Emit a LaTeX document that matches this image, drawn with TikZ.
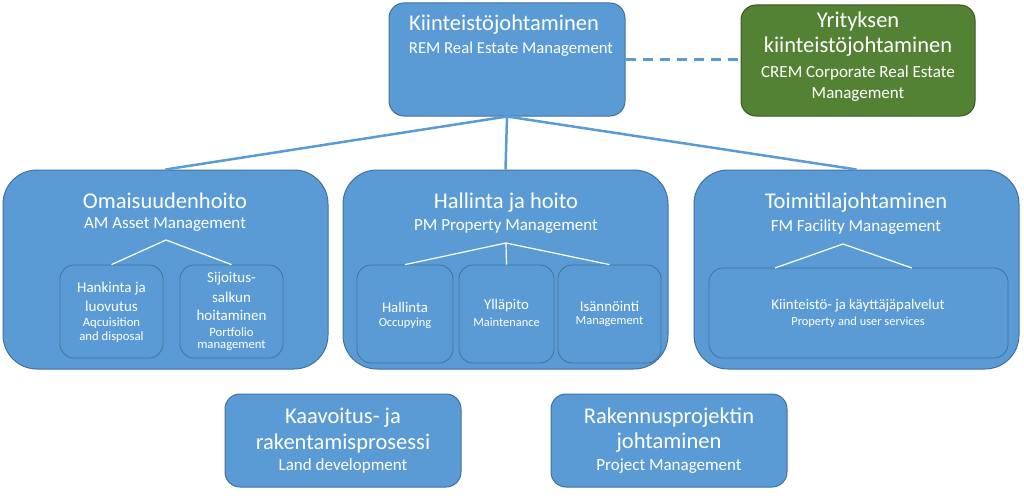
\documentclass[tikz,border=0pt]{standalone}
\usepackage{fontspec}
\setmainfont{Carlito}
\usetikzlibrary{positioning}
\definecolor{bfill}{HTML}{5B9BD5}
\definecolor{bline}{HTML}{41719C}
\definecolor{gfill}{HTML}{548235}
\definecolor{gline}{HTML}{385723}
\tikzset{
  box/.style={draw=bline, fill=bfill, line width=1pt, inner sep=0pt},
  bigbox/.style={box, rounded corners=34pt},
  midbox/.style={box, rounded corners=15pt},
  subbox/.style={draw=bline, line width=0.8pt, rounded corners=14pt, inner sep=0pt},
  greenbox/.style={draw=gline, fill=gfill, line width=1pt, rounded corners=15pt, inner sep=0pt},
  txt/.style={text=white, inner sep=0pt, anchor=center},
  tA/.style={txt, font=\fontsize{22.5}{27}\selectfont},
  tB/.style={txt, font=\fontsize{17}{20}\selectfont},
  tC/.style={txt, font=\fontsize{15}{18}\selectfont},
  tD/.style={txt, font=\fontsize{12.7}{15}\selectfont},
  tE/.style={txt, font=\fontsize{14.8}{18}\selectfont},
  tF/.style={txt, font=\fontsize{12.4}{15}\selectfont},
  conn/.style={draw=bfill, line width=2.5pt},
  inner/.style={draw=white, line width=1.2pt},
}
\begin{document}
\begin{tikzpicture}[x=1pt,y=-1pt]
\useasboundingbox (0,0) rectangle (1024,503);
% top
\node[midbox, minimum width=236pt, minimum height=113pt] (rem) at (507,59.5) {};
\node[tA] (rem1) at (504,25) {Kiinteistöjohtaminen};
\node[tB, font=\fontsize{16.7}{20}\selectfont] (rem2) at (511,49) {REM Real Estate Management};
\node[greenbox, minimum width=234pt, minimum height=111pt] (crem) at (858,60.5) {};
\node[tA] (crem1) at (858,22) {Yrityksen};
\node[tA] (crem2) at (858,47) {kiinteistöjohtaminen};
\node[tB] (crem3) at (858,73) {CREM Corporate Real Estate};
\node[tB] (crem4) at (858,95) {Management};
\draw[draw=bfill, line width=2.5pt, dash pattern=on 10pt off 7pt] (rem.east) -- (rem.east -| crem.west);
% middle row
\node[bigbox, minimum width=325pt, minimum height=199pt] (am) at (165.5,269.5) {};
\node[bigbox, minimum width=325pt, minimum height=199pt] (pm) at (505.5,269.5) {};
\node[bigbox, minimum width=325pt, minimum height=199pt] (fm) at (856.5,269.5) {};
\draw[conn] (rem.south) -- (am.north);
\draw[conn] (rem.south) -- (pm.north);
\draw[conn] (rem.south) -- (fm.north);
% AM
\node[tA] (am1) at (165,201) {Omaisuudenhoito};
\node[tB] (am2) at (165,225) {AM Asset Management};
\coordinate (amhub) at (166,240);
\node[subbox, minimum width=103pt, minimum height=93pt] (hank) at (111.5,311.5) {};
\node[subbox, minimum width=103pt, minimum height=93pt] (sij) at (231.5,311.5) {};
\draw[inner] (amhub) -- (hank.north);
\draw[inner] (amhub) -- (sij.north);
\node[tC] (hank1) at (111.5,289) {Hankinta ja};
\node[tC] (hank2) at (111.5,306) {luovutus};
\node[tD] (hank3) at (111.5,323) {Aqcuisition};
\node[tD] (hank4) at (111.5,337) {and disposal};
\node[tC] (sij1) at (231.5,279) {Sijoitus-};
\node[tC] (sij2) at (231.5,297) {salkun};
\node[tC] (sij3) at (231.5,315) {hoitaminen};
\node[tD] (sij4) at (231.5,332) {Portfolio};
\node[tD] (sij5) at (231.5,346) {management};
% PM
\node[tA] (pm1) at (506,203) {Hallinta ja hoito};
\node[tB] (pm2) at (506,227) {PM Property Management};
\coordinate (pmhub) at (506,243);
\node[subbox, minimum width=96pt, minimum height=98pt] (hal) at (405,314) {};
\node[subbox, minimum width=95pt, minimum height=98pt] (yll) at (506.5,314) {};
\node[subbox, minimum width=103pt, minimum height=98pt] (isa) at (609.5,314) {};
\draw[inner] (pmhub) -- (hal.north);
\draw[inner] (pmhub) -- (yll.north);
\draw[inner] (pmhub) -- (isa.north);
\node[tE] (hal1) at (405,307) {Hallinta};
\node[tF] (hal2) at (405,323) {Occupying};
\node[tE] (yll1) at (506.5,306) {Ylläpito};
\node[tF] (yll2) at (506.5,322) {Maintenance};
\node[tE] (isa1) at (609.5,306) {Isännöinti};
\node[tF] (isa2) at (609.5,322) {Management};
% FM
\node[tA] (fm1) at (856,203) {Toimitilajohtaminen};
\node[tB] (fm2) at (856,227) {FM Facility Management};
\coordinate (fmhub) at (843,244);
\node[subbox, minimum width=299pt, minimum height=90pt] (kk) at (858.5,313) {};
\coordinate (kkL) at (775,268);
\coordinate (kkR) at (912,268);
\draw[inner] (fmhub) -- (kkL);
\draw[inner] (fmhub) -- (kkR);
\node[tE] (kk1) at (858,306) {Kiinteistö- ja käyttäjäpalvelut};
\node[tF] (kk2) at (858,322) {Property and user services};
% bottom
\node[midbox, minimum width=236pt, minimum height=93pt] (kaa) at (343,440.5) {};
\node[tA] (kaa1) at (343,418) {Kaavoitus- ja};
\node[tA] (kaa2) at (343,443) {rakentamisprosessi};
\node[tB] (kaa3) at (343,466) {Land development};
\node[midbox, minimum width=236pt, minimum height=93pt] (rak) at (669,440.5) {};
\node[tA] (rak1) at (669,418) {Rakennusprojektin};
\node[tA] (rak2) at (669,443) {johtaminen};
\node[tB] (rak3) at (669,466) {Project Management};
\end{tikzpicture}
\end{document}
